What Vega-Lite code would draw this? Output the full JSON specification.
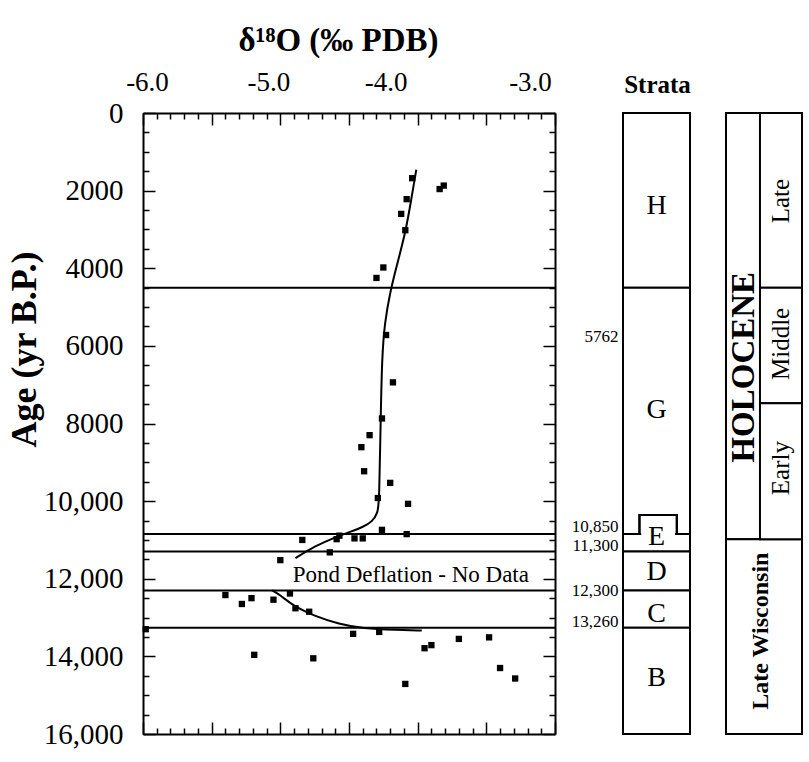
{
  "$schema": "https://vega.github.io/schema/vega-lite/v6.json",
  "background": "white",
  "padding": {"left": 6, "top": 24, "right": 5, "bottom": 5},
  "bounds": "flush",
  "spacing": 36,
  "config": {
    "font": "Liberation Serif",
    "view": {"stroke": null},
    "axis": {"labelColor": "black", "titleColor": "black", "tickColor": "black", "domainColor": "black", "labelFont": "Liberation Serif", "titleFont": "Liberation Serif"},
    "text": {"color": "black", "font": "Liberation Serif"}
  },
  "hconcat": [
    {
      "width": 412,
      "height": 621,
      "layer": [
        {
          "data": {"values": [{"age": 4500}, {"age": 10850}, {"age": 11300}, {"age": 12300}, {"age": 13260}]},
          "mark": {"type": "rule", "color": "black", "strokeWidth": 2},
          "encoding": {
            "y": {"field": "age", "type": "quantitative", "scale": {"domain": [0, 16000], "reverse": true, "nice": false, "zero": false}, "axis": null}
          }
        },
        {
          "data": {"values": [
            {"d18O": -4.04, "age": 1680}, {"d18O": -3.84, "age": 1960}, {"d18O": -3.81, "age": 1870},
            {"d18O": -4.08, "age": 2220}, {"d18O": -4.12, "age": 2600}, {"d18O": -4.09, "age": 3020},
            {"d18O": -4.25, "age": 3980}, {"d18O": -4.30, "age": 4250}, {"d18O": -4.23, "age": 5720},
            {"d18O": -4.18, "age": 6940}, {"d18O": -4.26, "age": 7870}, {"d18O": -4.35, "age": 8300},
            {"d18O": -4.41, "age": 8610}, {"d18O": -4.39, "age": 9230}, {"d18O": -4.20, "age": 9530},
            {"d18O": -4.29, "age": 9920}, {"d18O": -4.07, "age": 10070}, {"d18O": -4.26, "age": 10740},
            {"d18O": -4.08, "age": 10850}, {"d18O": -4.84, "age": 11000}, {"d18O": -4.57, "age": 10890},
            {"d18O": -4.59, "age": 10980}, {"d18O": -4.46, "age": 10960}, {"d18O": -4.40, "age": 10960},
            {"d18O": -4.64, "age": 11320}, {"d18O": -5.00, "age": 11520},
            {"d18O": -5.40, "age": 12420}, {"d18O": -5.28, "age": 12650}, {"d18O": -5.21, "age": 12500},
            {"d18O": -5.05, "age": 12540}, {"d18O": -4.93, "age": 12380}, {"d18O": -4.89, "age": 12760},
            {"d18O": -4.79, "age": 12850}, {"d18O": -5.98, "age": 13300}, {"d18O": -5.19, "age": 13960},
            {"d18O": -4.76, "age": 14050}, {"d18O": -4.47, "age": 13420}, {"d18O": -4.28, "age": 13370},
            {"d18O": -4.09, "age": 14710}, {"d18O": -3.95, "age": 13790}, {"d18O": -3.90, "age": 13710},
            {"d18O": -3.70, "age": 13550}, {"d18O": -3.48, "age": 13510}, {"d18O": -3.40, "age": 14300},
            {"d18O": -3.29, "age": 14570}
          ]},
          "mark": {"type": "square", "size": 40, "color": "black", "opacity": 1},
          "encoding": {
            "x": {
              "field": "d18O", "type": "quantitative",
              "scale": {"domain": [-6, -3], "nice": false, "zero": false},
              "axis": {
                "orient": "top",
                "values": [-6, -5.9, -5.8, -5.7, -5.6, -5.5, -5.4, -5.3, -5.2, -5.1, -5, -4.9, -4.8, -4.7, -4.6, -4.5, -4.4, -4.3, -4.2, -4.1, -4, -3.9, -3.8, -3.7, -3.6, -3.5, -3.4, -3.3, -3.2, -3.1, -3],
                "title": "δ¹⁸O (‰ PDB)",
                "titleFont": "Liberation Serif", "titleFontSize": 33, "titleFontWeight": "bold",
                "titleX": 195, "titleY": -63, "titleBaseline": "alphabetic", "titleAlign": "center",
                "labelExpr": "abs(datum.value - round(datum.value)) < 0.001 ? '-' + format(abs(datum.value), '.1f') : ''",
                "labelFont": "Liberation Serif", "labelFontSize": 27, "labelPadding": 29,
                "labelOffset": {"condition": [{"test": "datum.value == -6", "value": 4}, {"test": "datum.value == -5", "value": -12}, {"test": "datum.value == -4", "value": -32}, {"test": "datum.value == -3", "value": -25}], "value": 0},
                "tickSize": {"condition": {"test": "abs(datum.value * 2 - round(datum.value * 2)) < 0.001", "value": -12}, "value": -6},
                "tickWidth": 1.5,
                "domain": true, "domainWidth": 2,
                "grid": false, "labelOverlap": false, "labelBound": false, "labelFlush": false
              }
            },
            "y": {
              "field": "age", "type": "quantitative",
              "scale": {"domain": [0, 16000], "reverse": true, "nice": false, "zero": false},
              "axis": {
                "orient": "left",
                "values": [0, 500, 1000, 1500, 2000, 2500, 3000, 3500, 4000, 4500, 5000, 5500, 6000, 6500, 7000, 7500, 8000, 8500, 9000, 9500, 10000, 10500, 11000, 11500, 12000, 12500, 13000, 13500, 14000, 14500, 15000, 15500, 16000],
                "title": "Age (yr B.P.)",
                "titleFont": "Liberation Serif", "titleFontSize": 36, "titleFontWeight": "bold",
                "titleX": -100, "titleY": 236, "titleAngle": 270, "titleBaseline": "bottom", "titleAlign": "center",
                "labelExpr": "datum.value % 2000 == 0 ? (datum.value >= 10000 ? format(datum.value, ',') : format(datum.value, 'd')) : ''",
                "labelFont": "Liberation Serif", "labelFontSize": 29, "labelPadding": 32, "labelBaseline": "middle",
                "tickSize": {"condition": {"test": "datum.value % 2000 == 0", "value": -12}, "value": -6},
                "tickWidth": 1.5,
                "domain": true, "domainWidth": 2,
                "grid": false, "labelOverlap": false, "labelBound": false, "labelFlush": false
              }
            }
          }
        },
        {
          "data": {"values": [
            {"seg": "upper", "d18O": -4.01, "age": 1460}, {"seg": "upper", "d18O": -4.05, "age": 2300},
            {"seg": "upper", "d18O": -4.09, "age": 3100}, {"seg": "upper", "d18O": -4.15, "age": 3900},
            {"seg": "upper", "d18O": -4.20, "age": 4600}, {"seg": "upper", "d18O": -4.24, "age": 5400},
            {"seg": "upper", "d18O": -4.26, "age": 6300}, {"seg": "upper", "d18O": -4.27, "age": 8000},
            {"seg": "upper", "d18O": -4.28, "age": 10000}, {"seg": "upper", "d18O": -4.29, "age": 10300},
            {"seg": "upper", "d18O": -4.33, "age": 10530}, {"seg": "upper", "d18O": -4.40, "age": 10670},
            {"seg": "upper", "d18O": -4.49, "age": 10790}, {"seg": "upper", "d18O": -4.60, "age": 10930},
            {"seg": "upper", "d18O": -4.75, "age": 11160}, {"seg": "upper", "d18O": -4.89, "age": 11470},
            {"seg": "lower", "d18O": -5.06, "age": 12300}, {"seg": "lower", "d18O": -5.00, "age": 12420},
            {"seg": "lower", "d18O": -4.91, "age": 12690}, {"seg": "lower", "d18O": -4.76, "age": 12950},
            {"seg": "lower", "d18O": -4.57, "age": 13170}, {"seg": "lower", "d18O": -4.40, "age": 13280},
            {"seg": "lower", "d18O": -4.15, "age": 13320}, {"seg": "lower", "d18O": -3.97, "age": 13335}
          ]},
          "mark": {"type": "line", "color": "black", "strokeWidth": 2, "interpolate": "basis"},
          "encoding": {
            "x": {
              "field": "d18O", "type": "quantitative",
              "scale": {"domain": [-6, -3], "nice": false, "zero": false},
              "axis": {
                "orient": "bottom",
                "values": [-6, -5.9, -5.8, -5.7, -5.6, -5.5, -5.4, -5.3, -5.2, -5.1, -5, -4.9, -4.8, -4.7, -4.6, -4.5, -4.4, -4.3, -4.2, -4.1, -4, -3.9, -3.8, -3.7, -3.6, -3.5, -3.4, -3.3, -3.2, -3.1, -3],
                "title": null, "labels": false,
                "tickSize": {"condition": {"test": "abs(datum.value * 2 - round(datum.value * 2)) < 0.001", "value": -12}, "value": -6},
                "tickWidth": 1.5, "domain": true, "domainWidth": 2, "grid": false
              }
            },
            "y": {
              "field": "age", "type": "quantitative",
              "scale": {"domain": [0, 16000], "reverse": true, "nice": false, "zero": false},
              "axis": {
                "orient": "right",
                "values": [0, 500, 1000, 1500, 2000, 2500, 3000, 3500, 4000, 4500, 5000, 5500, 6000, 6500, 7000, 7500, 8000, 8500, 9000, 9500, 10000, 10500, 11000, 11500, 12000, 12500, 13000, 13500, 14000, 14500, 15000, 15500, 16000],
                "title": null, "labels": false,
                "tickSize": {"condition": {"test": "datum.value % 2000 == 0", "value": -12}, "value": -6},
                "tickWidth": 1.5, "domain": true, "domainWidth": 2, "grid": false
              }
            },
            "detail": {"field": "seg", "type": "nominal"},
            "order": {"field": "age", "type": "quantitative"}
          }
        },
        {
          "data": {"values": [{"note": "Pond Deflation - No Data", "d18O": -4.05, "age": 11900}]},
          "mark": {"type": "text", "fontSize": 23, "align": "center", "baseline": "middle", "color": "black", "font": "Liberation Serif"},
          "encoding": {
            "x": {"field": "d18O", "type": "quantitative", "scale": {"domain": [-6, -3], "nice": false, "zero": false}, "axis": null},
            "y": {"field": "age", "type": "quantitative", "scale": {"domain": [0, 16000], "reverse": true, "nice": false, "zero": false}, "axis": null},
            "text": {"field": "note", "type": "nominal"}
          }
        }
      ],
      "resolve": {"axis": {"x": "independent", "y": "independent"}}
    },
    {
      "width": 99,
      "height": 621,
      "title": {"text": "Strata", "fontSize": 25, "fontWeight": "bold", "font": "Liberation Serif", "anchor": "middle", "dx": 17, "offset": -6, "baseline": "alphabetic", "color": "black"},
      "data": {"values": [
        {"stratum": "H", "top": 0, "bottom": 4500, "labelAge": 2400},
        {"stratum": "G", "top": 4500, "bottom": 10850, "labelAge": 7650},
        {"stratum": "E", "top": 10850, "bottom": 11300, "labelAge": 10930},
        {"stratum": "D", "top": 11300, "bottom": 12300, "labelAge": 11820},
        {"stratum": "C", "top": 12300, "bottom": 13260, "labelAge": 12900},
        {"stratum": "B", "top": 13260, "bottom": 16000, "labelAge": 14550}
      ]},
      "layer": [
        {
          "mark": {"type": "rect", "fill": "white", "stroke": "black", "strokeWidth": 2},
          "encoding": {
            "x": {"datum": 0, "type": "quantitative", "scale": {"domain": [-0.4776, 1], "nice": false, "zero": false}, "axis": null},
            "x2": {"datum": 1},
            "y": {
              "field": "top", "type": "quantitative",
              "scale": {"domain": [0, 16000], "reverse": true, "nice": false, "zero": false},
              "axis": {
                "orient": "left", "offset": -32,
                "values": [5762, 10850, 11300, 12300, 13260],
                "labelExpr": "datum.value == 5762 ? '5762' : format(datum.value, ',')",
                "labelFont": "Liberation Serif", "labelFontSize": 17, "labelPadding": 5, "labelBaseline": "middle",
                "labelOffset": {"condition": [{"test": "datum.value == 10850", "value": -8}, {"test": "datum.value == 11300", "value": -6}, {"test": "datum.value == 13260", "value": -6}], "value": 0},
                "ticks": false, "domain": false, "grid": false, "title": null,
                "labelOverlap": false, "labelBound": false, "labelFlush": false
              }
            },
            "y2": {"field": "bottom"}
          }
        },
        {
          "mark": {"type": "rect", "fill": "white", "stroke": "black", "strokeWidth": 2},
          "encoding": {
            "x": {"datum": 0.25, "type": "quantitative"},
            "x2": {"datum": 0.8},
            "y": {"datum": 10360, "type": "quantitative"},
            "y2": {"datum": 10850}
          }
        },
        {
          "mark": {"type": "rect", "fill": "white", "strokeWidth": 0},
          "encoding": {
            "x": {"datum": 0.28, "type": "quantitative"},
            "x2": {"datum": 0.77},
            "y": {"datum": 10790, "type": "quantitative"},
            "y2": {"datum": 10910}
          }
        },
        {
          "mark": {"type": "text", "fontSize": 28, "align": "center", "baseline": "middle", "color": "black", "font": "Liberation Serif"},
          "encoding": {
            "x": {"datum": 0.5, "type": "quantitative"},
            "y": {"field": "labelAge", "type": "quantitative"},
            "text": {"field": "stratum", "type": "nominal"}
          }
        }
      ]
    },
    {
      "width": 76,
      "height": 621,
      "layer": [
        {
          "data": {"values": [
            {"period": "HOLOCENE", "top": 0, "bottom": 10980},
            {"period": "Late Wisconsin", "top": 10980, "bottom": 16000}
          ]},
          "mark": {"type": "rect", "fill": "white", "stroke": "black", "strokeWidth": 2},
          "encoding": {
            "x": {"datum": 0, "type": "quantitative", "scale": {"domain": [0, 1], "nice": false, "zero": false}, "axis": null},
            "x2": {"datum": 1},
            "y": {"field": "top", "type": "quantitative", "scale": {"domain": [0, 16000], "reverse": true, "nice": false, "zero": false}, "axis": null},
            "y2": {"field": "bottom"}
          }
        },
        {
          "data": {"values": [
            {"sub": "Late", "top": 0, "bottom": 4500, "labelAge": 2270},
            {"sub": "Middle", "top": 4500, "bottom": 7480, "labelAge": 5950},
            {"sub": "Early", "top": 7480, "bottom": 10980, "labelAge": 9150}
          ]},
          "layer": [
            {
              "mark": {"type": "rect", "fill": "white", "stroke": "black", "strokeWidth": 2},
              "encoding": {
                "x": {"datum": 0.447, "type": "quantitative"},
                "x2": {"datum": 1},
                "y": {"field": "top", "type": "quantitative"},
                "y2": {"field": "bottom"}
              }
            },
            {
              "mark": {"type": "text", "fontSize": 25, "angle": 270, "align": "center", "baseline": "middle", "color": "black", "font": "Liberation Serif"},
              "encoding": {
                "x": {"datum": 0.73, "type": "quantitative"},
                "y": {"field": "labelAge", "type": "quantitative"},
                "text": {"field": "sub", "type": "nominal"}
              }
            }
          ]
        },
        {
          "data": {"values": [{"period": "HOLOCENE", "labelAge": 6550}]},
          "mark": {"type": "text", "fontSize": 33, "fontWeight": "bold", "angle": 270, "align": "center", "baseline": "middle", "color": "black", "font": "Liberation Serif"},
          "encoding": {
            "x": {"datum": 0.235, "type": "quantitative"},
            "y": {"field": "labelAge", "type": "quantitative"},
            "text": {"field": "period", "type": "nominal"}
          }
        },
        {
          "data": {"values": [{"period": "Late Wisconsin", "labelAge": 13350}]},
          "mark": {"type": "text", "fontSize": 24, "fontWeight": "bold", "angle": 270, "align": "center", "baseline": "middle", "color": "black", "font": "Liberation Serif"},
          "encoding": {
            "x": {"datum": 0.46, "type": "quantitative"},
            "y": {"field": "labelAge", "type": "quantitative"},
            "text": {"field": "period", "type": "nominal"}
          }
        }
      ]
    }
  ]
}
